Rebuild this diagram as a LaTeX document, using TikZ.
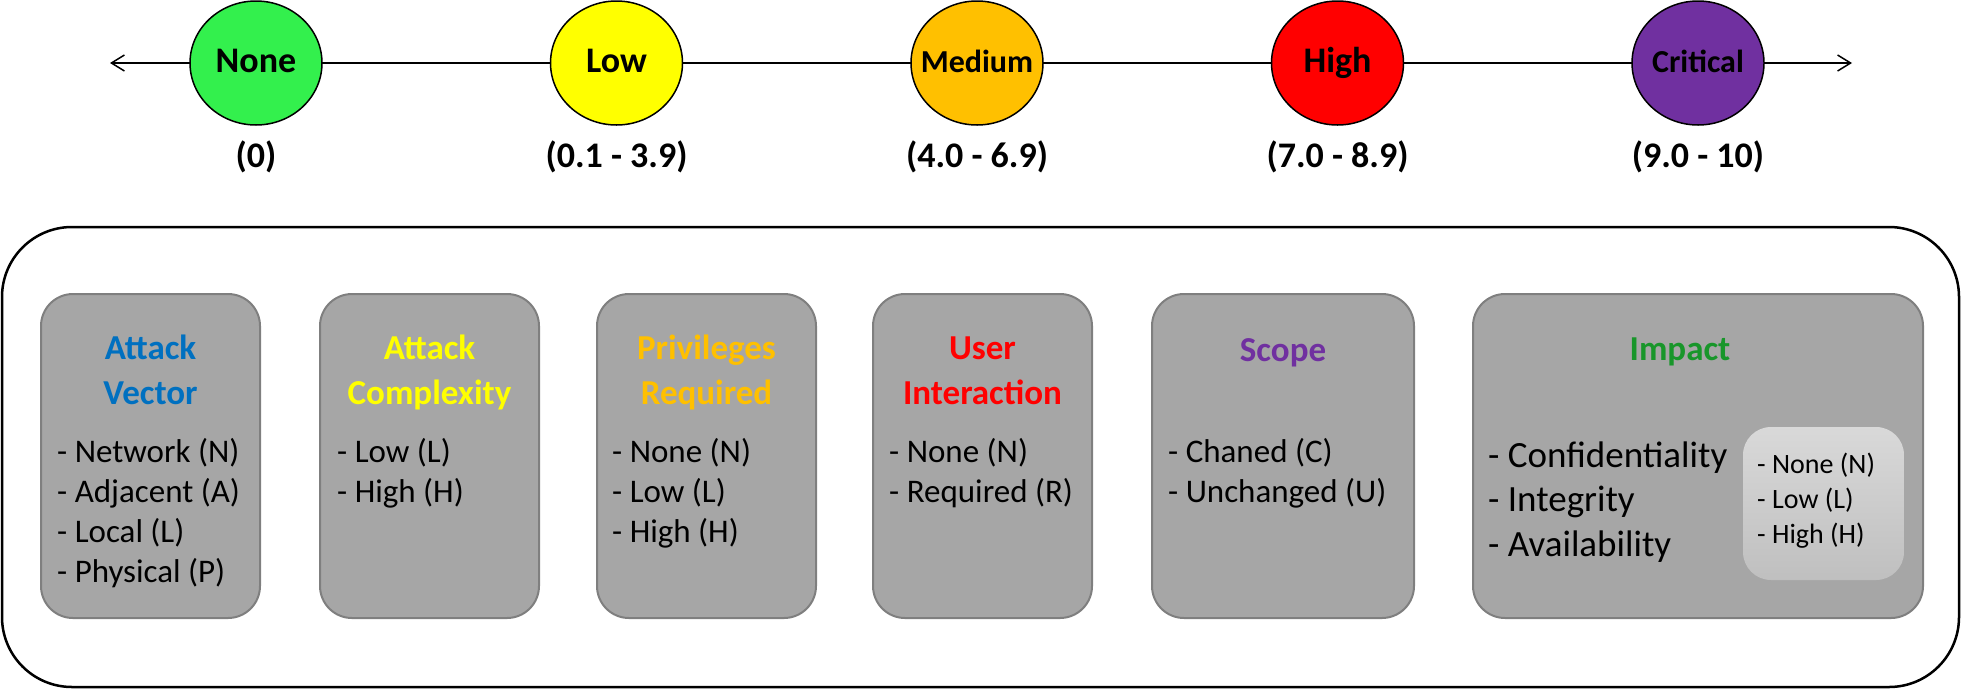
\documentclass[tikz,border=0pt]{standalone}
\usepackage{fontspec}
\setmainfont{Carlito}
\usetikzlibrary{shapes.geometric,arrows.meta}

\definecolor{nonegreen}{HTML}{33F04D}
\definecolor{lowyellow}{HTML}{FFFF00}
\definecolor{medorange}{HTML}{FFC000}
\definecolor{highred}{HTML}{FF0000}
\definecolor{critpurple}{HTML}{7030A0}
\definecolor{avblue}{HTML}{0070C0}
\definecolor{impgreen}{HTML}{18962A}
\definecolor{boxgray}{HTML}{A6A6A6}
\definecolor{boxedge}{HTML}{7F7F7F}

% keeps the ellipse size fixed whatever the label width
\newcommand{\levelname}[1]{\makebox[0pt]{#1}}

\begin{document}
\begin{tikzpicture}[x=1pt,y=-1pt,>={Straight Barb[length=13pt,width=16pt]},
  level/.style={ellipse,draw,line width=1.5pt,minimum width=132pt,minimum height=124pt,
    inner sep=0pt,font=\bfseries\fontsize{36}{36}\selectfont,text height=25pt,text depth=7pt},
  smalllevel/.style={level,font=\bfseries\fontsize{32}{32}\selectfont},
  rangelabel/.style={font=\bfseries\fontsize{36}{36}\selectfont,anchor=base,inner sep=0pt},
  metricbox/.style={draw=boxedge,line width=2pt,fill=boxgray,rounded corners=32pt,
    minimum height=324pt,inner sep=0pt},
  title/.style={font=\bfseries\fontsize{35}{45}\selectfont,align=center,anchor=base,inner sep=0pt},
  items/.style={font=\fontsize{33}{40}\selectfont,align=left,anchor=base west,inner sep=0pt}]
  \useasboundingbox (0,0) rectangle (1962,689);

  % severity scale
  \coordinate (lend) at (110,63);
  \coordinate (rend) at (1852,63);
  \draw[<->,line width=1.5pt] (lend) -- (rend);

  \node[level,fill=nonegreen]       (none) at (256,63)    {\levelname{None}};
  \node[level,fill=lowyellow]       (low)  at (616.5,63)  {\levelname{Low}};
  \node[smalllevel,fill=medorange]  (med)  at (977,63)    {\levelname{Medium}};
  \node[level,fill=highred]         (high) at (1337.5,63) {\levelname{High}};
  \node[smalllevel,fill=critpurple] (crit) at (1698,63)   {\levelname{Critical}};

  \node[rangelabel] (nonerange) at (256,167)    {(0)};
  \node[rangelabel] (lowrange)  at (616.5,167)  {(0.1 - 3.9)};
  \node[rangelabel] (medrange)  at (977,167)    {(4.0 - 6.9)};
  \node[rangelabel] (highrange) at (1337.5,167) {(7.0 - 8.9)};
  \node[rangelabel] (critrange) at (1698,167)   {(9.0 - 10)};

  % metrics (base anchor of a multi-line node = baseline of its last line)
  \node[draw,line width=2.5pt,rounded corners=70pt,minimum width=1957pt,minimum height=460pt]
    (frame) at (980.5,457) {};

  \node[metricbox,minimum width=219pt] (av) at (150.5,456) {};
  \node[metricbox,minimum width=219pt] (ac) at (429.5,456) {};
  \node[metricbox,minimum width=219pt] (pr) at (706.5,456) {};
  \node[metricbox,minimum width=219pt] (ui) at (982.5,456) {};
  \node[metricbox,minimum width=262pt] (sc) at (1283,456)  {};
  \node[metricbox,minimum width=450pt] (im) at (1698,456)  {};
  \node[rounded corners=28pt,top color=black!15,bottom color=black!25,
    minimum width=161pt,minimum height=153pt] (imscale) at (1823.5,503.5) {};

  \node[title,text=avblue]     (avt) at (150.5,404) {Attack\\Vector};
  \node[title,text=lowyellow]  (act) at (429.5,404) {Attack\\Complexity};
  \node[title,text=medorange]  (prt) at (706.5,404) {Privileges\\Required};
  \node[title,text=highred]    (uit) at (982.5,404) {User\\Interaction};
  \node[title,text=critpurple] (sct) at (1283,361)  {Scope};
  \node[title,text=impgreen]   (imt) at (1680,360)  {Impact};

  \node[items] (avl) at (57,582)   {- Network (N)\\- Adjacent (A)\\- Local (L)\\- Physical (P)};
  \node[items] (acl) at (337,502)  {- Low (L)\\- High (H)};
  \node[items] (prl) at (612,542)  {- None (N)\\- Low (L)\\- High (H)};
  \node[items] (uil) at (889,502)  {- None (N)\\- Required (R)};
  \node[items] (scl) at (1168,502) {- Chaned (C)\\- Unchanged (U)};
  \node[items,font=\fontsize{37}{44.5}\selectfont] (iml) at (1488,556)
    {- Confidentiality\\- Integrity\\- Availability};
  \node[items,font=\fontsize{28}{35}\selectfont] (imsl) at (1757,543)
    {- None (N)\\- Low (L)\\- High (H)};
\end{tikzpicture}
\end{document}
